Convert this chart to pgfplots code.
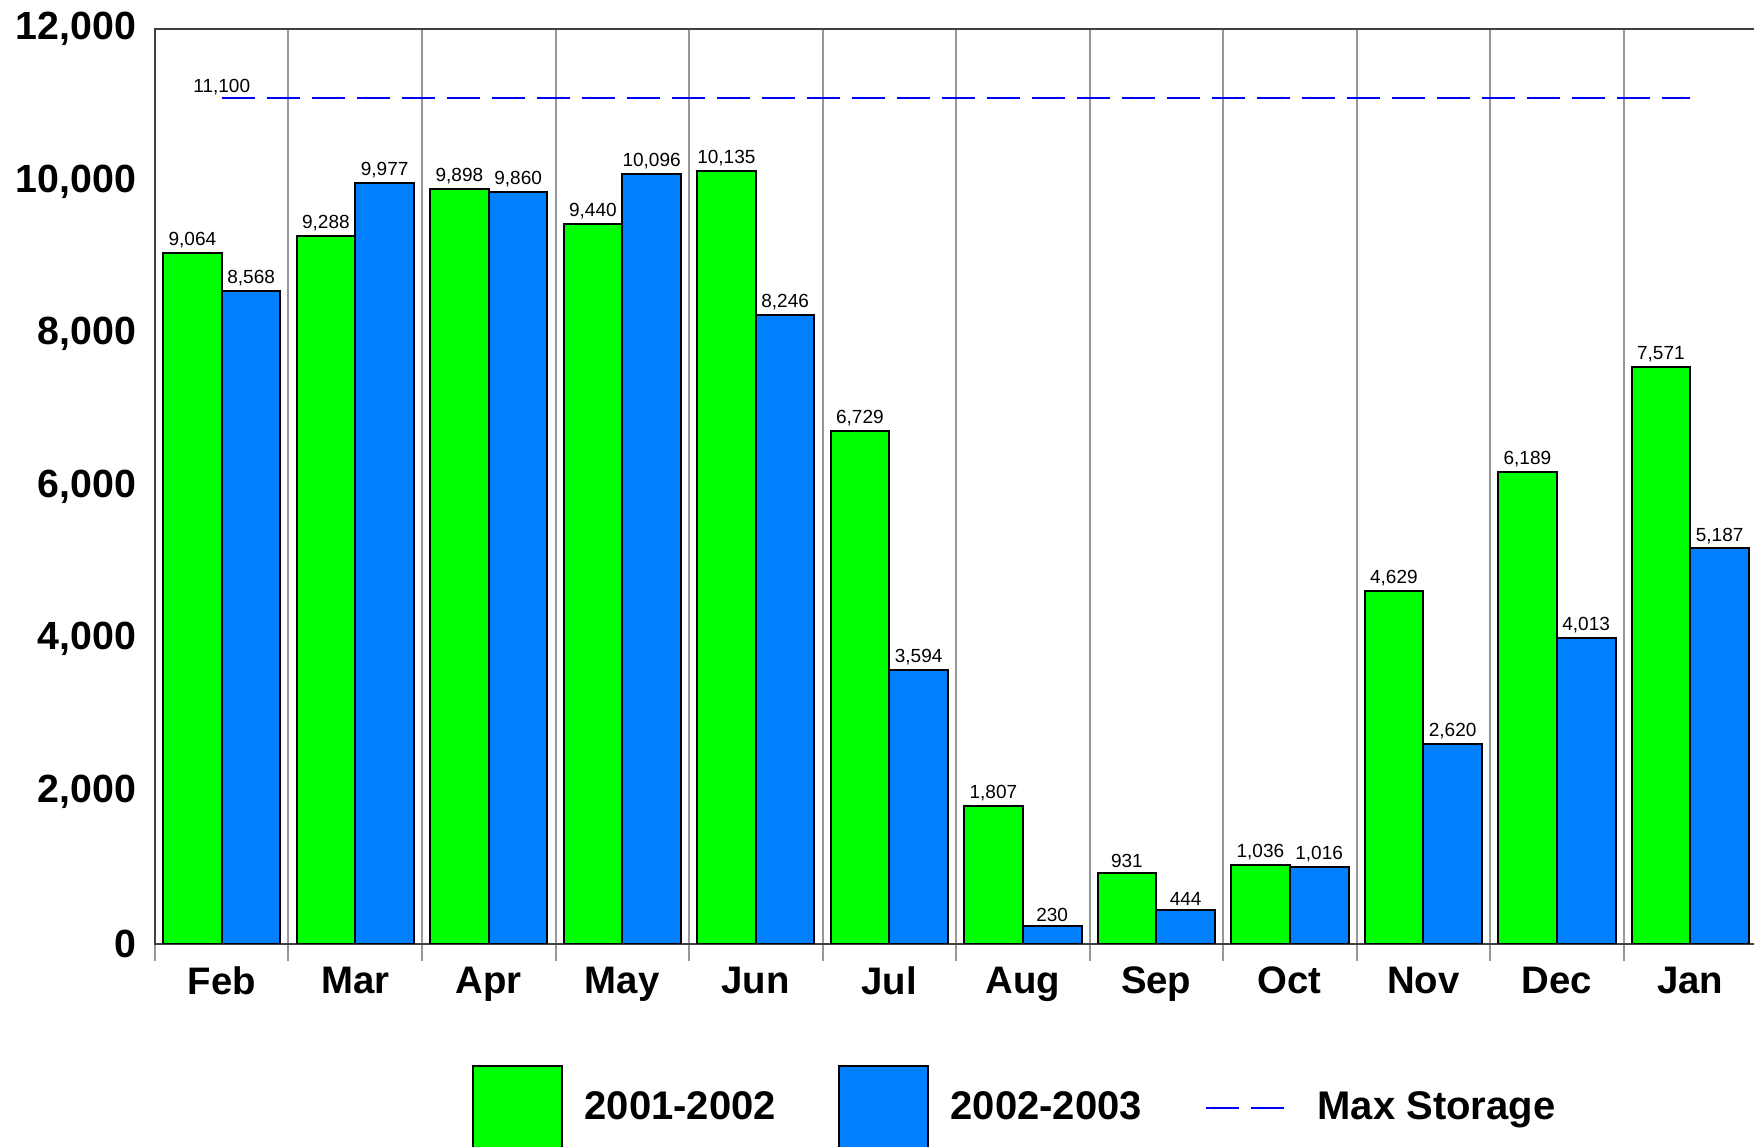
\documentclass[border=0pt]{standalone}
\usepackage{fontspec}
\setmainfont{Liberation Sans}
\usepackage{pgfplots}
\pgfplotsset{compat=1.18}
\definecolor{barG}{RGB}{0,255,0}
\definecolor{barB}{RGB}{0,128,255}
\definecolor{gridC}{RGB}{150,150,150}
\definecolor{maxC}{RGB}{0,0,255}
\pgfplotsset{
 tallbox legend/.style={legend image code/.code={\draw[##1, overlay] (0pt,-30pt) rectangle (26.7pt,12.5pt); \path[draw=none, fill=none] (0pt,0pt) rectangle (26.7pt,0.01pt);}},
 dash legend/.style={legend image code/.code={\draw[##1] (0pt,0pt) -- (23.4pt,0pt); \path[draw=none, fill=none] (0pt,0pt) rectangle (26.7pt,0.01pt);}},
}
\begin{document}
\begin{tikzpicture}
\begin{axis}[
 scale only axis, width=480.6pt, height=274.5pt,
 xmin=-0.5, xmax=11.5, ymin=0, ymax=12000,
 ybar=0pt, bar width=0.44,
 xtick={0,...,11}, xticklabels={Feb,Mar,Apr,May,Jun,Jul,Aug,Sep,Oct,Nov,Dec,Jan},
 minor xtick={-0.5,0.5,...,11.5},
 xminorgrids=true,
 minor x grid style={draw=gridC, line width=0.6pt},
 ytick={0,2000,...,12000},
 scaled y ticks=false,
 /pgf/number format/.cd, 1000 sep={,}, assume math mode=true, /pgfplots/.cd,
 major tick length=0pt, minor tick length=5pt, tick align=outside,
 xtick pos=lower, ytick pos=left,
 minor tick style={draw=gridC, line width=0.6pt},
 axis line style={draw=black!75, line width=0.6pt},
 xticklabel style={font=\fontsize{11.5}{13}\selectfont\bfseries, yshift=-3.4pt},
 yticklabel style={font=\fontsize{11.8}{14}\selectfont\bfseries, xshift=-2.1pt},
 nodes near coords style={font=\fontsize{5.7}{6}\selectfont, inner sep=1.2pt},
 legend columns=-1,
 legend style={at={(0.1979,-0.179)}, anchor=west, draw=none, fill=none, inner sep=0pt,
   font=\fontsize{12}{14}\selectfont\bfseries, nodes={inner xsep=0pt},
   /tikz/every odd column/.append style={column sep=6.9pt},
   /tikz/every even column/.append style={column sep=18.8pt}},
]
\addplot[fill=barG, draw=black, line width=0.6pt, bar shift=-0.22, nodes near coords, tallbox legend]
  coordinates {(0,9064) (1,9288) (2,9898) (3,9440) (4,10135) (5,6729) (6,1807) (7,931) (8,1036) (9,4629) (10,6189) (11,7571)};
\addlegendentry{2001-2002}
\addplot[fill=barB, draw=black, line width=0.6pt, bar shift=0.22, nodes near coords, tallbox legend]
  coordinates {(0,8568) (1,9977) (2,9860) (3,10096) (4,8246) (5,3594) (6,230) (7,444) (8,1016) (9,2620) (10,4013) (11,5187)};
\addlegendentry{2002-2003}
\addplot[sharp plot, draw=maxC, line width=0.6pt, dash pattern=on 10.1pt off 3.4pt, mark=none, dash legend]
  coordinates {(0,11100) (11,11100)};
\addlegendentry{Max Storage}
\node[anchor=south, font=\fontsize{5.7}{6}\selectfont, inner sep=0pt, yshift=0.5pt] at (axis cs:0,11100) {11,100};
\end{axis}
\pgfresetboundingbox
\useasboundingbox (-46.5pt,-60.9pt) rectangle (479.7pt,283.2pt);
\end{tikzpicture}
\end{document}
